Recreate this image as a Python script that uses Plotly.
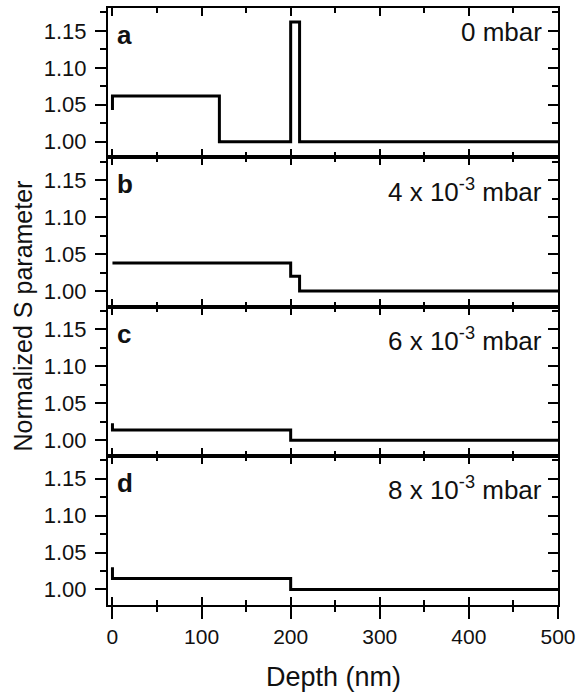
import plotly.graph_objects as go

# Data (step profiles, drawn with line_shape='hv')
depth_a = [0, 0, 120, 200, 210, 500]
s_a = [1.043, 1.062, 1.000, 1.162, 1.000, 1.000]

depth_b = [0, 200, 210, 500]
s_b = [1.038, 1.020, 1.000, 1.000]

depth_c = [0, 0, 200, 500]
s_c = [1.023, 1.014, 1.000, 1.000]

depth_d = [0, 0, 200, 500]
s_d = [1.030, 1.015, 1.000, 1.000]

panel_letters = ["a", "b", "c", "d"]
pressure_labels = ["0 mbar", "4 x 10<sup>-3</sup> mbar", "6 x 10<sup>-3</sup> mbar", "8 x 10<sup>-3</sup> mbar"]
y_ticks = [1.00, 1.05, 1.10, 1.15]
x_ticks = [0, 100, 200, 300, 400, 500]

series = [(depth_a, s_a), (depth_b, s_b), (depth_c, s_c), (depth_d, s_d)]

FONT = "Liberation Sans, Arial, sans-serif"
TXT = "#111"
XR = [-5, 500]
YR = [0.979, 1.181]
domains = [[0.75, 1.0], [0.5, 0.75], [0.25, 0.5], [0.0, 0.25]]

fig = go.Figure()
layout = dict(
    template="none",
    width=577, height=698,
    margin=dict(l=108, r=19, t=8, b=93, autoexpand=False),
    paper_bgcolor="white", plot_bgcolor="white",
    showlegend=False,
    font=dict(family=FONT, size=22, color=TXT),
)

for i, (xs, ys) in enumerate(series):
    n = i + 1
    xa = "x" if n == 1 else f"x{n}"
    ya = "y" if n == 1 else f"y{n}"
    fig.add_trace(go.Scatter(x=xs, y=ys, mode="lines", line=dict(color="black", width=3, shape="hv"),
                             xaxis=xa, yaxis=ya, hoverinfo="skip"))
    layout[f"xaxis{'' if n == 1 else n}"] = dict(
        domain=[0, 1], anchor=ya, range=XR, showgrid=False, zeroline=False, automargin=False,
        showline=True, linecolor="black", linewidth=2, mirror="ticks",
        ticks="inside", ticklen=8, tickwidth=1.5, tickcolor="black",
        tickvals=x_ticks, showticklabels=False,
        minor=dict(dtick=50, tick0=0, ticks="inside", ticklen=5, tickwidth=1.5, tickcolor="black"),
    )
    layout[f"yaxis{'' if n == 1 else n}"] = dict(
        domain=domains[i], anchor=xa, range=YR, showgrid=False, zeroline=False, automargin=False,
        showline=True, linecolor="black", linewidth=2, mirror=False,
        ticks="outside", ticklen=11, tickwidth=1.5, tickcolor="black", ticklabelstandoff=4,
        tickvals=y_ticks, tickformat=".2f", tickfont=dict(size=22, family=FONT, color=TXT),
        minor=dict(dtick=0.025, tick0=1.0, ticks="outside", ticklen=6, tickwidth=1.5, tickcolor="black"),
    )
    ry = f"y{n + 5}"
    fig.add_trace(go.Scatter(x=xs, y=ys, mode="lines", line=dict(color="rgba(0,0,0,0)", width=0),
                             xaxis=xa, yaxis=ry, hoverinfo="skip"))
    layout[f"yaxis{n + 5}"] = dict(
        domain=domains[i], anchor=xa, overlaying=ya, side="right", range=YR, automargin=False,
        showgrid=False, zeroline=False, showline=True, linecolor="black", linewidth=2,
        ticks="inside", ticklen=10, tickwidth=1.5, tickcolor="black",
        tickvals=y_ticks, showticklabels=False,
        minor=dict(dtick=0.025, tick0=1.0, ticks="inside", ticklen=6, tickwidth=1.5, tickcolor="black"),
    )
    fig.add_annotation(text=f"<b>{panel_letters[i]}</b>", xref=f"{xa} domain", yref=f"{ya} domain",
                       x=0.016, y=1 - 27 / 149.25, xanchor="left", yanchor="middle", showarrow=False,
                       font=dict(size=26, family=FONT, color=TXT))
    ytxt = 1 - 24 / 149.25 if i == 0 else 1 - 33 / 149.25
    fig.add_annotation(text=pressure_labels[i], xref=f"{xa} domain", yref=f"{ya} domain",
                       x=1, xshift=-14, y=ytxt, xanchor="right", yanchor="middle", showarrow=False,
                       font=dict(size=26, family=FONT, color=TXT))

fig.add_trace(go.Scatter(x=depth_d, y=s_d, mode="lines", line=dict(color="rgba(0,0,0,0)", width=0),
                         xaxis="x5", yaxis="y4", hoverinfo="skip"))
layout["xaxis5"] = dict(
    domain=[0, 1], anchor="y4", overlaying="x4", side="bottom", range=XR, automargin=False,
    showgrid=False, zeroline=False, showline=True, linecolor="black", linewidth=2,
    ticks="outside", ticklen=12, tickwidth=1.5, tickcolor="black",
    tickvals=x_ticks, tickfont=dict(size=21, family=FONT, color=TXT),
    minor=dict(dtick=50, tick0=0, ticks="outside", ticklen=5, tickwidth=1.5, tickcolor="black"),
)

fig.update_layout(**layout)

fig.add_annotation(text="Depth (nm)", xref="paper", yref="paper", x=0.5, y=-(677 - 605) / 597,
                   xanchor="center", yanchor="middle", showarrow=False,
                   font=dict(size=27, family=FONT, color=TXT))
fig.add_annotation(text="Normalized S parameter", xref="paper", yref="paper", x=(22 - 108) / 450,
                   y=0.5 - 10 / 597, xanchor="center", yanchor="middle", textangle=-90, showarrow=False,
                   font=dict(size=25, family=FONT, color=TXT))

fig.write_html("out.html", config={"displayModeBar": False},
               post_script="document.body.style.margin='0';document.body.style.overflow='hidden';")
